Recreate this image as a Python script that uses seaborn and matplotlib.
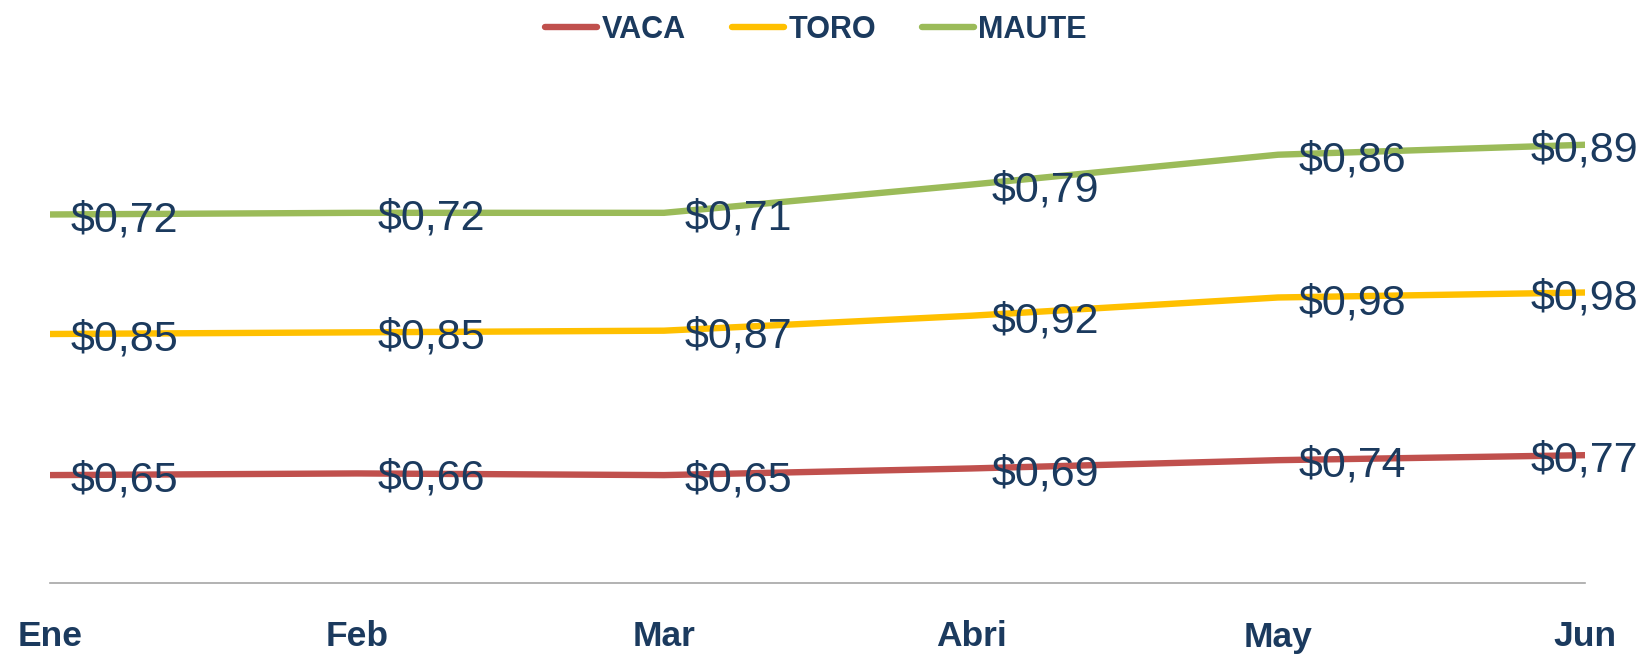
import matplotlib
matplotlib.use("Agg")
import matplotlib.pyplot as plt
import pandas as pd
import seaborn as sns
from matplotlib.lines import Line2D

# datos
meses = ["Ene", "Feb", "Mar", "Abri", "May", "Jun"]
vaca = [0.65, 0.66, 0.65, 0.69, 0.74, 0.77]
toro = [0.85, 0.85, 0.87, 0.92, 0.98, 0.98]
maute = [0.72, 0.72, 0.71, 0.79, 0.86, 0.89]
series = ["VACA", "TORO", "MAUTE"]
colores = ["#C0504D", "#FFC000", "#9BBB59"]
azul = "#1B3A5E"

sns.set_theme(style="white")
plt.rcParams["font.family"] = ["Liberation Sans", "DejaVu Sans"]

# lineas apiladas
acum = [0.0] * len(meses)
filas = []
for nombre, valores in zip(series, [vaca, toro, maute]):
    acum = [a + v for a, v in zip(acum, valores)]
    for i, m in enumerate(meses):
        filas.append({"mes": i, "serie": nombre, "valor": valores[i], "acum": acum[i]})
df = pd.DataFrame(filas)

fig = plt.figure(figsize=(16.42, 6.56), dpi=100)
ax = fig.add_axes([50 / 1642, 1 - 583 / 656, 1535 / 1642, 498 / 656])

sns.lineplot(data=df, x="mes", y="acum", hue="serie", hue_order=series,
             palette=colores, linewidth=4.6, legend=False, ax=ax,
             solid_capstyle="round")

for _, r in df.iterrows():
    dx = -39 if r["mes"] == len(meses) - 1 else 15
    txt = "$" + f"{r['valor']:.2f}".replace(".", ",")
    ax.annotate(txt, (r["mes"], r["acum"]), xytext=(dx, -4),
                textcoords="offset points", ha="left", va="center",
                fontsize=31, color=azul, annotation_clip=False)

ax.set_xlim(0, len(meses) - 1)
ax.set_ylim(0, 3.0)
ax.set_xticks(range(len(meses)))
ax.set_xticklabels(meses, fontsize=25.5, fontweight="bold", color=azul)
ax.set_yticks([])
ax.set_xlabel("")
ax.set_ylabel("")
ax.tick_params(axis="x", length=0, pad=27)
for s in ["top", "left", "right"]:
    ax.spines[s].set_visible(False)
ax.spines["bottom"].set_color("#A6A6A6")
ax.spines["bottom"].set_linewidth(1.2)

handles = [Line2D([], [], color=c, linewidth=4.6, solid_capstyle="round") for c in colores]
leg = fig.legend(handles, series, loc="center", bbox_to_anchor=(0.497, 0.955),
                 ncol=3, frameon=False, handlelength=1.7, handletextpad=0.15,
                 columnspacing=1.5, prop={"size": 22, "weight": "bold"})
for t in leg.get_texts():
    t.set_color(azul)

fig.savefig("out.png", dpi=100, facecolor="white")
